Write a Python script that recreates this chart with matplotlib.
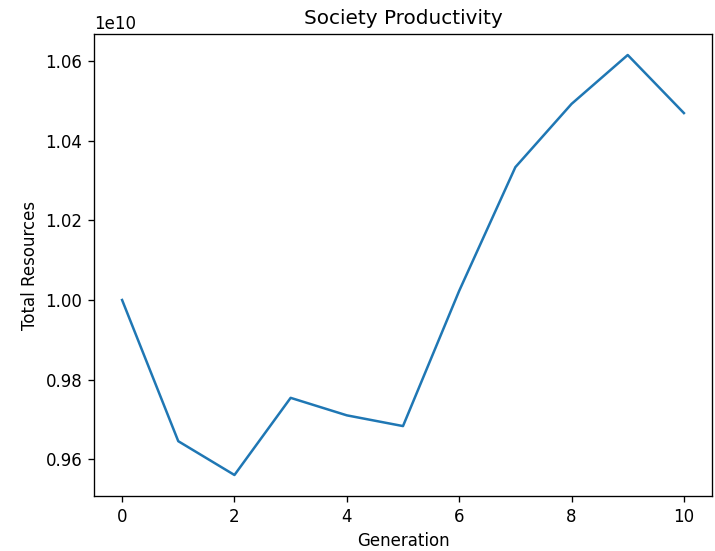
import matplotlib
matplotlib.use("Agg")
import matplotlib.pyplot as plt

generations = [0, 1, 2, 3, 4, 5, 6, 7, 8, 9, 10]
total_resources = [1.0000e10, 0.9645e10, 0.9560e10, 0.9754e10, 0.9710e10, 0.9683e10,
                   1.0023e10, 1.0334e10, 1.0493e10, 1.0616e10, 1.0470e10]

DPI = 120
fig = plt.figure(figsize=(715/DPI, 551/DPI), dpi=DPI)
ax = fig.add_axes([94/715, 1 - 496/551, (712-94)/715, (496-34)/551])
ax.plot(generations, total_resources)
ax.set_title("Society Productivity")
ax.set_xlabel("Generation")
ax.set_ylabel("Total Resources")
fig.savefig("out.png", dpi=DPI)
